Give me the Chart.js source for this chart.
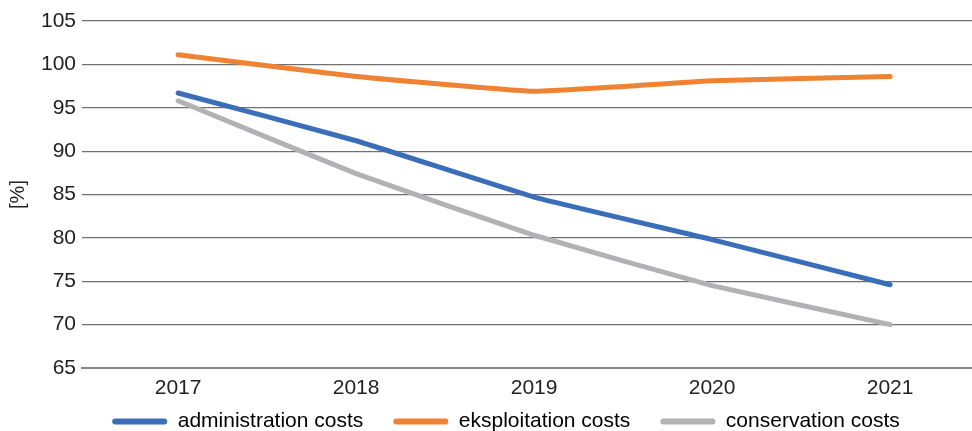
<!DOCTYPE html>
<html>
<head>
<meta charset="utf-8">
<script src="https://cdn.jsdelivr.net/npm/chart.js@4"></script>
<style>
  html, body { margin: 0; padding: 0; background: #fff; }
  #wrap { width: 972px; height: 431px; position: relative; }
</style>
</head>
<body>
<div id="wrap"><canvas id="costChart"></canvas></div>
<script>
const years = ['2017', '2018', '2019', '2020', '2021'];
const administration = [96.7, 91.2, 84.7, 79.8, 74.6];
const eksploitation = [101.1, 98.6, 96.9, 98.1, 98.6];
const conservation = [95.8, 87.4, 80.3, 74.5, 70.0];
const yTicks = [65, 70, 75, 80, 85, 90, 95, 100, 105];

const FONT = '"Liberation Sans", Arial, sans-serif';
Chart.defaults.font.family = FONT;
Chart.defaults.color = '#222';

const makeLine = (label, data, color) => ({
    label,
    data,
    borderColor: color,
    backgroundColor: color,
    borderWidth: 5,
    borderCapStyle: 'round',
    borderJoinStyle: 'round',
    pointRadius: 0,
    tension: 0.1,
    fill: false,
});

// legend keeps wide item gaps but sits tight under the year labels:
// only a thin strip is reserved in the layout, then its box is widened upward
const legendShift = {
    id: 'legendShift',
    afterLayout(chart) {
        const lg = chart.legend;
        if (!lg) return;
        lg.top = lg.bottom - 50;
        lg.height = 50;
        lg.left += 17;
        lg.right += 17;
    },
};

new Chart(document.getElementById('costChart'), {
    type: 'line',
    data: {
        labels: years,
        datasets: [
            makeLine('administration costs', administration, '#3b6eb9'),
            makeLine('eksploitation costs', eksploitation, '#ef8233'),
            makeLine('conservation costs', conservation, '#b2b2b4'),
        ],
    },
    plugins: [legendShift],
    options: {
        responsive: true,
        maintainAspectRatio: false,
        animation: false,
        layout: { padding: { top: 21, right: 0, left: 6, bottom: 0 } },
        scales: {
            x: {
                type: 'linear',
                // years sit a little right of the band centres
                min: Number(years[0]) - 0.54,
                max: Number(years[years.length - 1]) + 0.46,
                afterBuildTicks: (axis) => { axis.ticks = years.map((y) => ({ value: Number(y) })); },
                grid: { display: false, drawTicks: false },
                border: { color: '#858585', width: 2 },
                ticks: { font: { size: 21 }, padding: 8, color: '#222', callback: (v) => String(v) },
                afterFit: (axis) => { axis.height = 42; },
            },
            y: {
                min: yTicks[0],
                max: yTicks[yTicks.length - 1],
                afterBuildTicks: (axis) => { axis.ticks = yTicks.map((v) => ({ value: v })); },
                ticks: { font: { size: 21 }, padding: 6, color: '#222' },
                grid: { color: '#6f6f6f', lineWidth: 1.2, drawTicks: false },
                border: { display: false },
                title: { display: true, text: '[%]', font: { size: 20 }, padding: 0, color: '#222' },
                afterFit: (axis) => { axis.width = 76; },
            },
        },
        plugins: {
            legend: {
                position: 'bottom',
                maxHeight: 21,
                labels: {
                    font: { size: 21 },
                    boxWidth: 55,
                    boxHeight: 6,
                    padding: 30,
                    useBorderRadius: true,
                    borderRadius: 3,
                    color: '#222',
                    generateLabels: (chart) => chart.data.datasets.map((ds, i) => ({
                        text: ds.label,
                        fillStyle: ds.borderColor,
                        strokeStyle: ds.borderColor,
                        lineWidth: 0,
                        borderRadius: 3,
                        datasetIndex: i,
                        hidden: !chart.isDatasetVisible(i),
                    })),
                },
            },
            tooltip: { enabled: false },
        },
    },
});
</script>
</body>
</html>
